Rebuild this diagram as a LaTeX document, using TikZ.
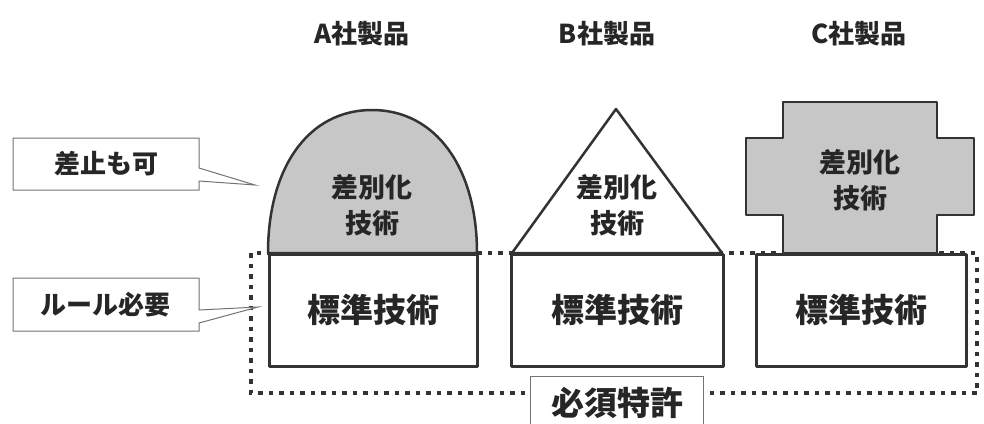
\documentclass[tikz,border=0pt]{standalone}
\usepackage{fontspec}
\newfontfamily\jp{Noto Sans CJK JP}
\begin{document}
\begin{tikzpicture}[x=1pt,y=-1pt,
  jpbase/.style={font=\jp\bfseries, text=black!85, inner sep=0pt},
  title/.style={jpbase, font=\jp\bfseries\fontsize{26}{30}\selectfont},
  big/.style={jpbase, font=\jp\bfseries\fontsize{33}{36}\selectfont},
  mid/.style={jpbase, font=\jp\bfseries\fontsize{27}{36}\selectfont, align=center},
  call/.style={jpbase, font=\jp\bfseries\fontsize{26}{30}\selectfont},
  boxline/.style={draw=black!80, line width=2.5pt, line join=round},
  calloutline/.style={draw=black!55, line width=1pt, fill=white},
  dotline/.style={draw=black!80, line width=4.5pt, dash pattern=on 4.5pt off 6pt},
  shade/.style={fill=black!22}
]
\useasboundingbox (0,0) rectangle (984,423);

% titles
\node[title] (tA) at (362,34) {A社製品};
\node[title] (tB) at (607,34) {B社製品};
\node[title] (tC) at (859,34) {C社製品};

% dotted essential-patent frame
\draw[dotline] (251,253) rectangle (977,393);

% label box for essential patents
\draw[calloutline] (530,430) -- (530,376) -- (703,376) -- (703,430);
\node[big] (ess) at (617,403) {必須特許};

% A: dome
\path[boxline, shade] (268,253) .. controls (268,168) and (308,110) .. (372,110)
  .. controls (436,110) and (477,168) .. (477,253) -- cycle;
\node[mid] (dA) at (372,205) {差別化\\技術};

% B: triangle
\path[boxline, fill=white] (512,253) -- (616,109) -- (722,253) -- cycle;
\node[mid] (dB) at (617,205) {差別化\\技術};

% C: cross
\path[boxline, shade] (783,253) -- (783,215) -- (746,215) -- (746,138) -- (783,138) -- (783,102)
  -- (937,102) -- (937,138) -- (974,138) -- (974,215) -- (937,215) -- (937,253) -- cycle;
\node[mid] (dC) at (860,180) {差別化\\技術};

% standard technology boxes
\node[boxline, fill=white, minimum width=208pt, minimum height=112pt, anchor=north west] (sA) at (268,253) {};
\node[boxline, fill=white, minimum width=212pt, minimum height=112pt, anchor=north west] (sB) at (510,253) {};
\node[boxline, fill=white, minimum width=210pt, minimum height=112pt, anchor=north west] (sC) at (755,253) {};
\node[big] (sAt) at (sA.center) {標準技術};
\node[big] (sBt) at (sB.center) {標準技術};
\node[big] (sCt) at (sC.center) {標準技術};

% callouts
\coordinate (tip1) at (255,185);
\coordinate (tip2) at (258,307);
\path[calloutline] (13,138) -- (199,138) -- (199,168) -- (tip1) -- (199,181) -- (199,190) -- (13,190) -- cycle;
\node[call] (c1) at (106,164) {差止も可};
\path[calloutline] (13,278) -- (199,278) -- (199,310) -- (tip2) -- (199,323) -- (199,331) -- (13,331) -- cycle;
\node[call] (c2) at (105,305) {ルール必要};
\end{tikzpicture}
\end{document}
